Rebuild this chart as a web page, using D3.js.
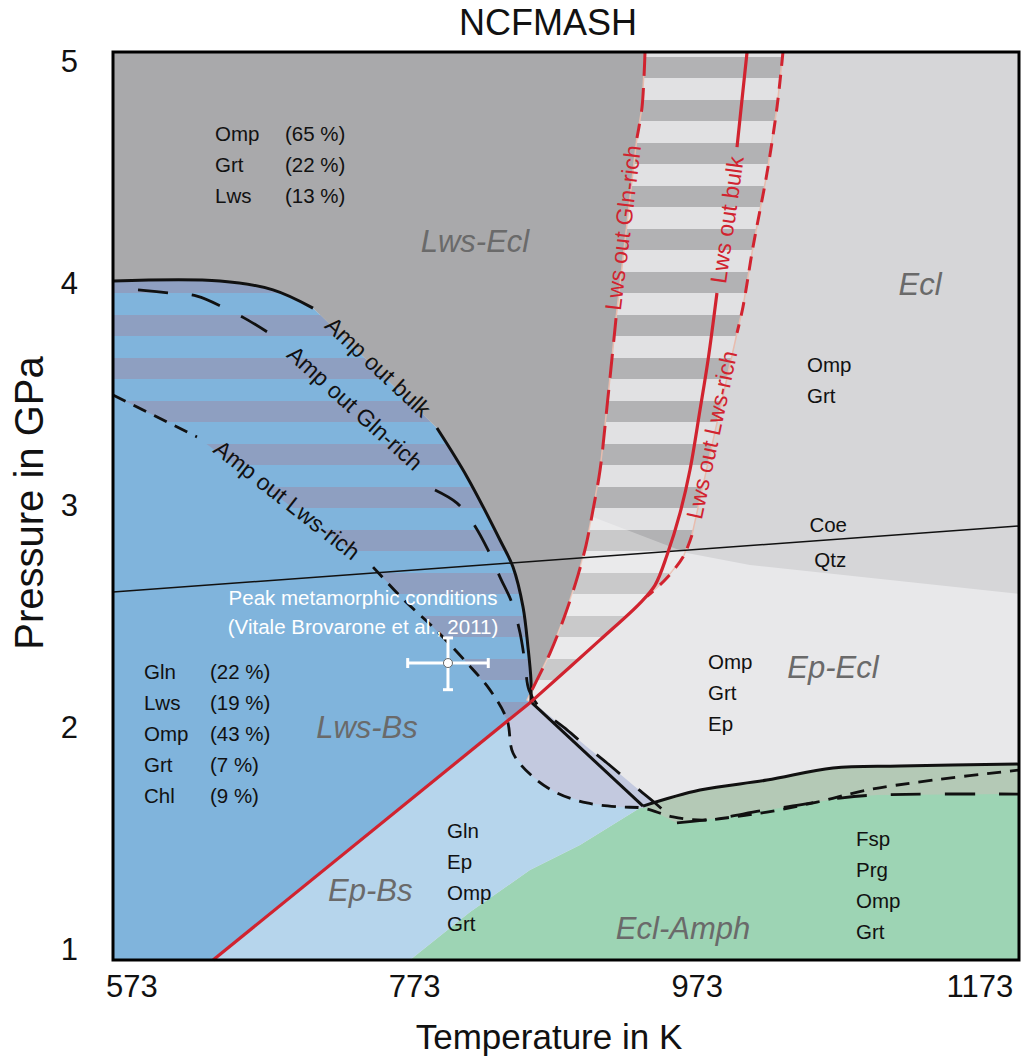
<!DOCTYPE html>
<html><head><meta charset="utf-8">
<script src="https://cdn.jsdelivr.net/npm/d3@7"></script>
<style>
body{margin:0;background:#fff}
svg{display:block}
text{font-family:"Liberation Sans",Arial,Helvetica,sans-serif}
</style>
</head><body>
<svg id="c" width="1027" height="1059"></svg>
<script>
// ---------------- DATA (T in K, P in GPa) ----------------
const tempTicks = [573, 773, 973, 1173];
const pressTicks = [1, 2, 3, 4, 5];
const tempDomain = [560, 1201];
const pressDomain = [0.953, 5.041];

// Amp out bulk (solid black) down to the invariant point
const ampBulkUpper = [[560,4.010],[635.7,4.010],[673.2,3.970],[701.5,3.888], null,
  [789.2,3.348],[810.5,3.128],[833.8,2.844],[843,2.722],[850.1,2.542],[853.6,2.362],[855.7,2.214],[855.7,2.115]];
const ampBulkLower = [[855.7,2.115],[935,1.646]];
const eclAmphBoundary = [[935,1.646],[975.3,1.718],[1022.7,1.763],[1069.4,1.817],[1116.8,1.826],[1201,1.835]];

// Amp out Gln-rich (long dashed black)
const ampGlnRich = [[577.7,3.970],[600.3,3.956],[619.4,3.942],[639.2,3.888],[655.5,3.834],[678.2,3.744], null,
  [787.8,3.069],[803.4,3.010],[814.7,2.920],[825.3,2.799],[833.8,2.677],[842.3,2.560],[848,2.425],[851.5,2.290],[854.3,2.169],
  [862.1,2.088],[881.2,1.989],[895.4,1.912],[909.5,1.840],[927.9,1.741],[943.5,1.660],[959,1.570], null,
  [959,1.570],[989.5,1.592],[1017.8,1.624],[1046.1,1.651],[1074.4,1.682],[1100.5,1.696],[1201,1.700]];

// Amp out Lws-rich (short dashed black)
const ampLwsRich = [[560,3.497],[619.4,3.308], null,
  [744,2.722],[766.6,2.569],[786.4,2.452],[810.5,2.290],[826.7,2.169],[838.8,2.034],[843,1.885],[857.2,1.777],[874.1,1.705],
  [895.4,1.660],[918.7,1.642],[935,1.637],[956.2,1.597],[977.4,1.583],[998.7,1.597],[1022.7,1.619],[1058.1,1.664],[1093.5,1.718],[1140.2,1.763],[1201,1.808]];

// Red lines
const redBlueschist = [[630.8,0.953],[855.7,2.115]];
const redLwsBulk = [[855.7,2.115],[904.6,2.394],[932.9,2.560],[943.5,2.641],[952,2.776],[961.2,2.966],[968.2,3.159],[975.3,3.429],[981,3.654],[987.3,3.956], null,
  [1001.5,4.613],[1005,4.825],[1008.6,5.041]];
const redLwsRich = [[1034,5.041],[1029.8,4.793],[1022.7,4.496],[1012.8,4.163],[1005.7,3.893],[1001.5,3.776], null,
  [969.6,2.866],[963.3,2.767],[950.5,2.664],[937.8,2.590]];
const redGlnRich = [[936.4,5.041],[934.3,4.793],[930.7,4.654], null,
  [915.9,3.843],[909.5,3.443],[904.6,3.159],[899.6,2.979],[894.7,2.821],[889,2.686],[879.8,2.506],[869.2,2.335],[860,2.214],[852.9,2.124]];

// Other boundaries
const coeQtz = [[560,2.610],[1201,2.907]];
const eclEpEcl = [[899.6,2.948],[966.1,2.785],[1010.7,2.731],[1201,2.601]];
const greenEdge = [[770.1,0.953],[812.6,1.169],[855,1.358],[890.4,1.471],[935,1.646]];

// Peak metamorphic conditions
const peak = {T:797, P:2.29, dT:28.5, dPup:0.113, dPdn:0.12};

// Labels
const regionLabels = [["Lws-Ecl",816.1,4.186],["Ecl",1131,3.992],["Ep-Ecl",1069.4,2.268],["Lws-Bs",739.7,2.002],["Ep-Bs",742,1.268],["Ecl-Amph",963.3,1.097]];
const mineralBlocks = [
  {T:632.2, P:4.676, names:["Omp","Grt","Lws"], pctT:681.7, pct:["(65 %)","(22 %)","(13 %)"]},
  {T:1051, P:3.632, names:["Omp","Grt"]},
  {T:981, P:2.295, names:["Omp","Grt","Ep"]},
  {T:581.9, P:2.250, names:["Gln","Lws","Omp","Grt","Chl"], pctT:628.6, pct:["(22 %)","(19 %)","(43 %)","(7 %)","(9 %)"]},
  {T:796.3, P:1.538, names:["Gln","Ep","Omp","Grt"]},
  {T:1085.7, P:1.502, names:["Fsp","Prg","Omp","Grt"]}
];
const lineLabels = [
  ["Amp out bulk",747.5,3.623,43,"#111"],
  ["Amp out Gln-rich",731.2,3.438,42,"#111"],
  ["Amp out Lws-rich",683.1,3.024,38,"#111"],
  ["Lws out Gln-rich",920.8,4.249,-83,"#d1232f"],
  ["Lws out bulk",994.4,4.285,-82,"#d1232f"],
  ["Lws out Lws-rich",983.6,3.317,-78,"#d1232f"]
];
const phaseLabels = [["Coe",1066,2.913],["Qtz",1067.5,2.754]];
const peakText = ["Peak metamorphic conditions","(Vitale Brovarone et al., 2011)"];
const peakTextPos = [736.9, 2.587];

// ---------------- DRAW ----------------
const x = d3.scaleLinear().domain(tempDomain).range([113,1019]);
const y = d3.scaleLinear().domain(pressDomain).range([960,52]);
const svg = d3.select("#c");
const defs = svg.append("defs");

const clean = a => a.filter(Boolean).filter((p,i,arr)=> i===0 || !(p[0]===arr[i-1][0] && p[1]===arr[i-1][1]));
const poly = pts => "M" + clean(pts).map(p=>x(p[0])+","+y(p[1])).join("L") + "Z";
const line = d3.line().defined(d=>d).x(d=>x(d[0])).y(d=>y(d[1])).curve(d3.curveCatmullRom.alpha(0.5));

const bp = defs.append("pattern").attr("id","blueStripe").attr("patternUnits","userSpaceOnUse")
  .attr("x",0).attr("y",315).attr("width",1027).attr("height",43);
bp.append("rect").attr("width",1027).attr("height",21).attr("fill","#8e9fc1");
const gp = defs.append("pattern").attr("id","grayStripe").attr("patternUnits","userSpaceOnUse")
  .attr("x",0).attr("y",315).attr("width",1027).attr("height",43);
gp.append("rect").attr("width",1027).attr("height",43).attr("fill","#e1e1e3");
gp.append("rect").attr("width",1027).attr("height",21).attr("fill","#b2b2b4");

const X0 = tempDomain[0], X1 = tempDomain[1], Y0 = pressDomain[0], Y1 = pressDomain[1];
const junction = ampBulkLower[0];

// polygons
const bulkUp = clean(ampBulkUpper);
const eclPoly = [...eclEpEcl, [X1,Y1], [eclEpEcl[0][0],Y1]];
const greenPoly = [...greenEdge, ...eclAmphBoundary, [X1,Y0]];
const glnPts = clean(ampGlnRich), lwsPts = clean(ampLwsRich);
const grayGreenPoly = [...eclAmphBoundary, ...glnPts.filter(p=>p[0]>=959).reverse()];
const epBsPoly = [redBlueschist[0], junction, ampBulkLower[1], ...greenEdge.slice(0,-1).reverse()];
const lavPoly = [junction, ...glnPts.filter(p=>p[0]>856 && p[0]<945), ...lwsPts.filter(p=>p[0]>=838.8 && p[0]<=935).reverse()];
const lwsBsPoly = [...bulkUp, redBlueschist[0], [X0,Y0]];
const blueStripePoly = [...bulkUp, ...lwsPts.filter(p=>p[0]<=838.8).reverse()];
const redGlnPts = clean(redGlnRich);
const lwsEclPoly = [[X0,Y1], ...redGlnPts, junction, ...bulkUp.slice().reverse()];
const upperStripePoly = [...redGlnPts, junction, ...clean(redLwsBulk).filter(p=>p[0]>855.7 && p[0]<937.8), ...clean(redLwsRich).reverse()];
const overlayPoly = [...eclEpEcl, [X1,2.0], [840,2.0], [840,eclEpEcl[0][1]]];

defs.append("clipPath").attr("id","stripeClip").append("path").attr("d", poly(upperStripePoly));

const g = svg.append("g");
g.append("rect").attr("x",x(X0)).attr("y",y(Y1)).attr("width",x(X1)-x(X0)).attr("height",y(Y0)-y(Y1)).attr("fill","#e8e8ea");
g.append("path").attr("d",poly(eclPoly)).attr("fill","#d6d6d8");
g.append("path").attr("d",poly(greenPoly)).attr("fill","#9dd4b4");
g.append("path").attr("d",poly(grayGreenPoly)).attr("fill","#b4c9b6");
g.append("path").attr("d",poly(epBsPoly)).attr("fill","#b6d5ec");
g.append("path").attr("d",poly(lavPoly)).attr("fill","#c3c9df");
g.append("path").attr("d",poly(lwsBsPoly)).attr("fill","#80b4dc");
g.append("path").attr("d",poly(blueStripePoly)).attr("fill","url(#blueStripe)");
g.append("path").attr("d",poly(lwsEclPoly)).attr("fill","#a9a9ab");
g.append("path").attr("d",poly(upperStripePoly)).attr("fill","url(#grayStripe)").attr("stroke","#e8bcae").attr("stroke-width",1.5);
g.append("path").attr("d",poly(overlayPoly)).attr("fill","#ffffff").attr("opacity",0.3).attr("clip-path","url(#stripeClip)");

// Coe/Qtz
g.append("path").attr("d",line(coeQtz)).attr("fill","none").attr("stroke","#111").attr("stroke-width",1.6);

// black lines
const drawLine = (data, color, w, dash) => g.append("path").attr("d",line(data)).attr("fill","none")
  .attr("stroke",color).attr("stroke-width",w).attr("stroke-dasharray",dash||null).attr("stroke-linejoin","round");
drawLine(ampLwsRich,"#111",2.8,"14,9");
drawLine(ampGlnRich,"#111",2.8,"30,24");
drawLine(ampBulkUpper,"#111",3);
drawLine(ampBulkLower,"#111",3);
drawLine(eclAmphBoundary,"#111",3);
// red lines
const red = "#d1232f";
drawLine(redGlnRich,red,3,"24,12");
drawLine(redLwsRich,red,3,"14,9");
drawLine(redBlueschist,red,3.2);
drawLine(redLwsBulk,red,3.2);

// peak marker
const pk = g.append("g").attr("stroke","#fff").attr("stroke-width",3);
pk.append("line").attr("x1",x(peak.T-peak.dT)).attr("x2",x(peak.T+peak.dT)).attr("y1",y(peak.P)).attr("y2",y(peak.P));
pk.append("line").attr("x1",x(peak.T)).attr("x2",x(peak.T)).attr("y1",y(peak.P+peak.dPup)).attr("y2",y(peak.P-peak.dPdn));
[peak.T-peak.dT, peak.T+peak.dT].forEach(t=>pk.append("line").attr("x1",x(t)).attr("x2",x(t)).attr("y1",y(peak.P)-5).attr("y2",y(peak.P)+5));
[peak.P+peak.dPup, peak.P-peak.dPdn].forEach(p=>pk.append("line").attr("x1",x(peak.T)-5).attr("x2",x(peak.T)+5).attr("y1",y(p)).attr("y2",y(p)));
g.append("circle").attr("cx",x(peak.T)).attr("cy",y(peak.P)).attr("r",4.5).attr("fill","#fff").attr("stroke","#666").attr("stroke-width",1);

peakText.forEach((t,i)=> g.append("text").attr("x",x(peakTextPos[0])).attr("y",y(peakTextPos[1])+i*29)
  .attr("text-anchor","middle").attr("dominant-baseline","central").attr("font-size",20.5).attr("fill","#fff").text(t));

// labels
regionLabels.forEach(d=> g.append("text").attr("x",x(d[1])).attr("y",y(d[2])).attr("text-anchor","middle")
  .attr("dominant-baseline","central").attr("font-size",31).attr("font-style","italic").attr("fill","#6a6a6a").text(d[0]));
mineralBlocks.forEach(b=>{
  b.names.forEach((n,i)=> g.append("text").attr("x",x(b.T)).attr("y",y(b.P)+i*31).attr("dominant-baseline","central")
    .attr("font-size",20.5).attr("fill","#111").text(n));
  if(b.pct) b.pct.forEach((n,i)=> g.append("text").attr("x",x(b.pctT)).attr("y",y(b.P)+i*31).attr("dominant-baseline","central")
    .attr("font-size",20.5).attr("fill","#111").text(n));
});
lineLabels.forEach(d=> g.append("text").attr("transform",`translate(${x(d[1])},${y(d[2])}) rotate(${d[3]})`)
  .attr("text-anchor","middle").attr("dominant-baseline","central").attr("font-size",23).attr("fill",d[4]).text(d[0]));
phaseLabels.forEach(d=> g.append("text").attr("x",x(d[1])).attr("y",y(d[2])).attr("text-anchor","middle")
  .attr("dominant-baseline","central").attr("font-size",20.5).attr("fill","#111").text(d[0]));

// frame
svg.append("rect").attr("x",x(X0)).attr("y",y(Y1)).attr("width",x(X1)-x(X0)).attr("height",y(Y0)-y(Y1))
  .attr("fill","none").attr("stroke","#000").attr("stroke-width",3);

// axes
const ax = svg.append("g").attr("transform",`translate(0,${y(Y0)})`)
  .call(d3.axisBottom(x).tickValues(tempTicks).tickSize(0).tickPadding(15).tickFormat(d3.format("d")));
ax.select(".domain").remove();
ax.selectAll("text").attr("font-size",31).attr("font-family","'Liberation Sans',Arial,sans-serif").attr("fill","#111");
const ay = svg.append("g").attr("transform",`translate(${x(X0)},0)`)
  .call(d3.axisLeft(y).tickValues(pressTicks).tickSize(0).tickPadding(35).tickFormat(d3.format("d")));
ay.select(".domain").remove();
ay.selectAll("text").attr("font-size",31).attr("font-family","'Liberation Sans',Arial,sans-serif").attr("fill","#111");

svg.append("text").attr("x",548).attr("y",22).attr("text-anchor","middle").attr("dominant-baseline","central")
  .attr("font-size",36).attr("fill","#111").text("NCFMASH");
svg.append("text").attr("x",549).attr("y",1036).attr("text-anchor","middle").attr("dominant-baseline","central")
  .attr("font-size",35).attr("fill","#111").text("Temperature in K");
svg.append("text").attr("transform","translate(29,503) rotate(-90)").attr("text-anchor","middle").attr("dominant-baseline","central")
  .attr("font-size",40).attr("fill","#111").text("Pressure in GPa");
</script>
</body></html>
